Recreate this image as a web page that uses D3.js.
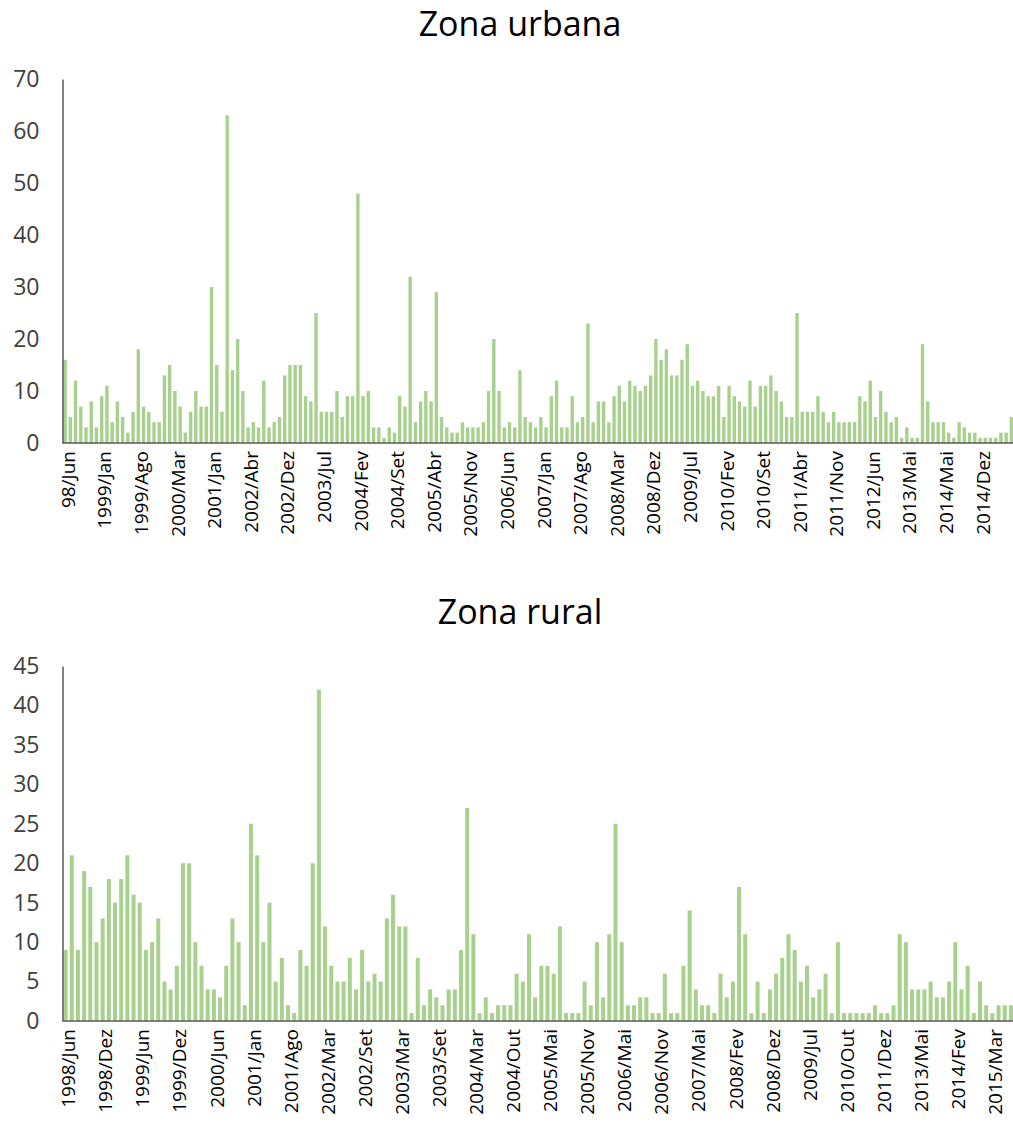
<!DOCTYPE html>
<html><head><meta charset="utf-8">
<script src="https://cdn.jsdelivr.net/npm/d3@7"></script>
<style>
body{margin:0;background:#fff;}
svg text{font-family:"Open Sans",sans-serif;fill:#404040;}
</style></head>
<body><svg id="chart" width="1013" height="1138"></svg>
<script>
const urbanTitle = "Zona urbana";
const ruralTitle = "Zona rural";
const urbanTicks = ["98/Jun","1999/Jan","1999/Ago","2000/Mar","2001/Jan","2002/Abr","2002/Dez","2003/Jul","2004/Fev","2004/Set","2005/Abr","2005/Nov","2006/Jun","2007/Jan","2007/Ago","2008/Mar","2008/Dez","2009/Jul","2010/Fev","2010/Set","2011/Abr","2011/Nov","2012/Jun","2013/Mai","2014/Mai","2014/Dez"];
const ruralTicks = ["1998/Jun","1998/Dez","1999/Jun","1999/Dez","2000/Jun","2001/Jan","2001/Ago","2002/Mar","2002/Set","2003/Mar","2003/Set","2004/Mar","2004/Out","2005/Mai","2005/Nov","2006/Mai","2006/Nov","2007/Mai","2008/Fev","2008/Dez","2009/Jul","2010/Out","2011/Dez","2013/Mai","2014/Fev","2015/Mar"];
const urbanValues = [16,5,12,7,3,8,3,9,11,4,8,5,2,6,18,7,6,4,4,13,15,10,7,2,6,10,7,7,30,15,6,63,14,20,10,3,
4,3,12,3,4,5,13,15,15,15,9,8,25,6,6,6,10,5,9,9,48,9,10,3,3,1,3,2,9,7,32,4,8,10,8,29,
5,3,2,2,4,3,3,3,4,10,20,10,3,4,3,14,5,4,3,5,3,9,12,3,3,9,4,5,23,4,8,8,4,9,11,8,12,
11,10,11,13,20,16,18,13,13,16,19,11,12,10,9,9,11,5,11,9,8,7,12,7,11,11,13,10,8,5,5,25,6,6,6,9,
6,4,6,4,4,4,4,9,8,12,5,10,6,4,5,1,3,1,1,19,8,4,4,4,2,1,4,3,2,2,1,1,1,1,2,2,5];
const ruralValues = [9,21,9,19,17,10,13,18,15,18,21,16,15,9,10,13,5,4,7,20,20,10,7,4,4,3,7,13,10,2,25,
21,10,15,5,8,2,1,9,7,20,42,12,7,5,5,8,4,9,5,6,5,13,16,12,12,1,8,2,4,3,
2,4,4,9,27,11,1,3,1,2,2,2,6,5,11,3,7,7,6,12,1,1,1,5,2,10,3,11,25,10,2,
2,3,3,1,1,6,1,1,7,14,4,2,2,1,6,3,5,17,11,1,5,1,4,6,8,11,9,5,7,3,4,
6,1,10,1,1,1,1,1,2,1,1,2,11,10,4,4,4,5,3,3,5,10,4,7,1,5,2,1,2,2,2];
const urbanYTicks = [0,10,20,30,40,50,60,70];
const ruralYTicks = [0,5,10,15,20,25,30,35,40,45];

const svg = d3.select("#chart");
const barColor = "#a9d18e";

function drawChart(cfg){
  const g = svg.append("g");
  const n = cfg.values.length;
  const x = d3.scaleBand().domain(d3.range(n)).range([cfg.x0, cfg.x1]).paddingInner(cfg.pad).paddingOuter(cfg.pad/2);
  const y = d3.scaleLinear().domain([0, cfg.ymax]).range([cfg.y0, cfg.y1]);
  g.append("text").attr("x", cfg.titleX).attr("y", cfg.titleY).attr("text-anchor","middle")
    .style("font-size","34px").style("fill","#000").text(cfg.title);
  g.selectAll("rect.bar").data(cfg.values).join("rect").attr("class","bar")
    .attr("x",(d,i)=>x(i)).attr("width",x.bandwidth())
    .attr("y",d=>y(d)).attr("height",d=>y(0)-y(d)).attr("fill",barColor);
  // y axis
  const ya = g.append("g").attr("transform",`translate(${cfg.x0},0)`)
    .call(d3.axisLeft(y).tickValues(cfg.yTicks).tickSize(0).tickPadding(23));
  ya.select(".domain").attr("stroke","#595959").attr("stroke-width",1.5);
  ya.selectAll("text").style("font-size","23px").style("fill","#404040").style("font-family","Open Sans");
  // x axis
  const tickIdx = cfg.ticks.map((t,k)=>k*cfg.every);
  const xa = g.append("g").attr("transform",`translate(0,${cfg.y0})`)
    .call(d3.axisBottom(x).tickValues(tickIdx).tickFormat((d,k)=>cfg.ticks[k]).tickSize(0).tickPadding(0));
  xa.select(".domain").attr("stroke","#595959").attr("stroke-width",1.5)
    .attr("d",`M${cfg.x0},0H${cfg.x1}`);
  xa.selectAll("text").style("font-size","19px").style("fill","#000").style("font-family","Open Sans")
    .attr("text-anchor","end").attr("dy","0.35em")
    .attr("transform","translate(3,8) rotate(-90)").attr("x",0).attr("y",0);
}

drawChart({title:urbanTitle, values:urbanValues, ticks:urbanTicks, every:7, yTicks:urbanYTicks, ymax:70,
  x0:62.5, x1:1014, y0:443, y1:79, pad:0.35, titleX:520, titleY:36});
drawChart({title:ruralTitle, values:ruralValues, ticks:ruralTicks, every:6, yTicks:ruralYTicks, ymax:45,
  x0:62.5, x1:1014, y0:1021, y1:666, pad:0.35, titleX:520, titleY:624});
</script></body></html>
